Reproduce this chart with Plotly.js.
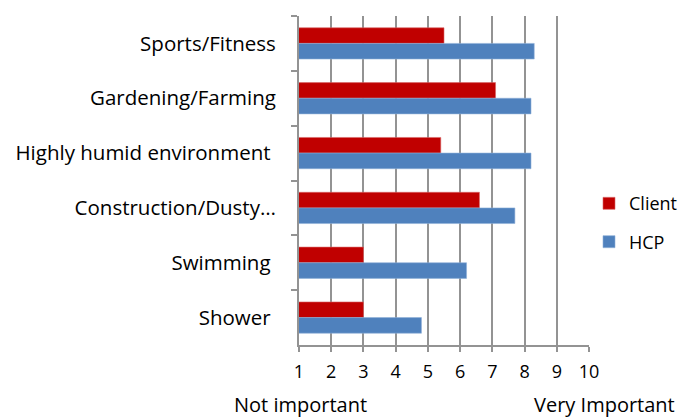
<!DOCTYPE html>
<html>
<head>
<meta charset="utf-8">
<script src="https://cdn.plot.ly/plotly-3.0.1.min.js"></script>
<style>html,body{margin:0;padding:0;background:#fff;}#chart{width:683px;height:419px;}</style>
</head>
<body>
<div id="chart"></div>
<script>
var categories = ["Sports/Fitness", "Gardening/Farming", "Highly humid environment ", "Construction/Dusty\u2026", "Swimming ", "Shower "];
var clientValues = [5.5, 7.1, 5.4, 6.6, 3.0, 3.0];
var hcpValues = [8.3, 8.2, 8.2, 7.7, 6.2, 4.8];
var xTickValues = [1, 2, 3, 4, 5, 6, 7, 8, 9, 10];
var lowLabel = "Not important";
var highLabel = "Very Important";

var font = "Open Sans, sans-serif";
var traces = [
  {type: "bar", orientation: "h", name: "Client", y: categories, x: clientValues,
   marker: {color: "#C00000", line: {color: "#d96666", width: 0.6}}, legendgroup: "a"},
  {type: "bar", orientation: "h", name: "HCP", y: categories, x: hcpValues,
   marker: {color: "#4F81BD", line: {color: "#8fb0d8", width: 0.6}}, legendgroup: "b"}
];
var layout = {
  width: 683, height: 419,
  margin: {l: 299, r: 94, t: 16, b: 74, autoexpand: false},
  paper_bgcolor: "#fff", plot_bgcolor: "#fff",
  barmode: "group", bargap: 0.43, bargroupgap: 0,
  font: {family: font, size: 18, color: "#000"},
  xaxis: {range: [1, 10], tickvals: xTickValues, ticktext: xTickValues.map(String),
    showgrid: true, gridcolor: "#939393", gridwidth: 2,
    showline: true, linecolor: "#939393", linewidth: 2,
    ticks: "outside", ticklen: 5, tickcolor: "#939393", tickwidth: 2,
    ticklabelstandoff: 4,
    zeroline: false, fixedrange: true, tickfont: {size: 18}},
  yaxis: {type: "category", autorange: "reversed", showgrid: false,
    showline: true, linecolor: "#939393", linewidth: 2,
    ticks: "outside", ticklen: 6, tickcolor: "#939393", tickwidth: 2,
    tickson: "boundaries", ticklabelstandoff: 17, tickfont: {size: 20.5}},
  showlegend: true,
  legend: {x: 1.0, xanchor: "left", xref: "paper", y: 0.372, yanchor: "middle",
    traceorder: "grouped", tracegroupgap: 12, font: {size: 18}, itemwidth: 30},
  annotations: [
    {xref: "paper", yref: "paper", x: 0.005, y: -0.18, xanchor: "center", yanchor: "middle",
     text: lowLabel, showarrow: false, font: {size: 20}},
    {xref: "paper", yref: "paper", x: 1.055, y: -0.18, xanchor: "center", yanchor: "middle",
     text: highLabel, showarrow: false, font: {size: 20}}
  ]
};
Plotly.newPlot("chart", traces, layout, {displayModeBar: false, staticPlot: true});
</script>
</body>
</html>
